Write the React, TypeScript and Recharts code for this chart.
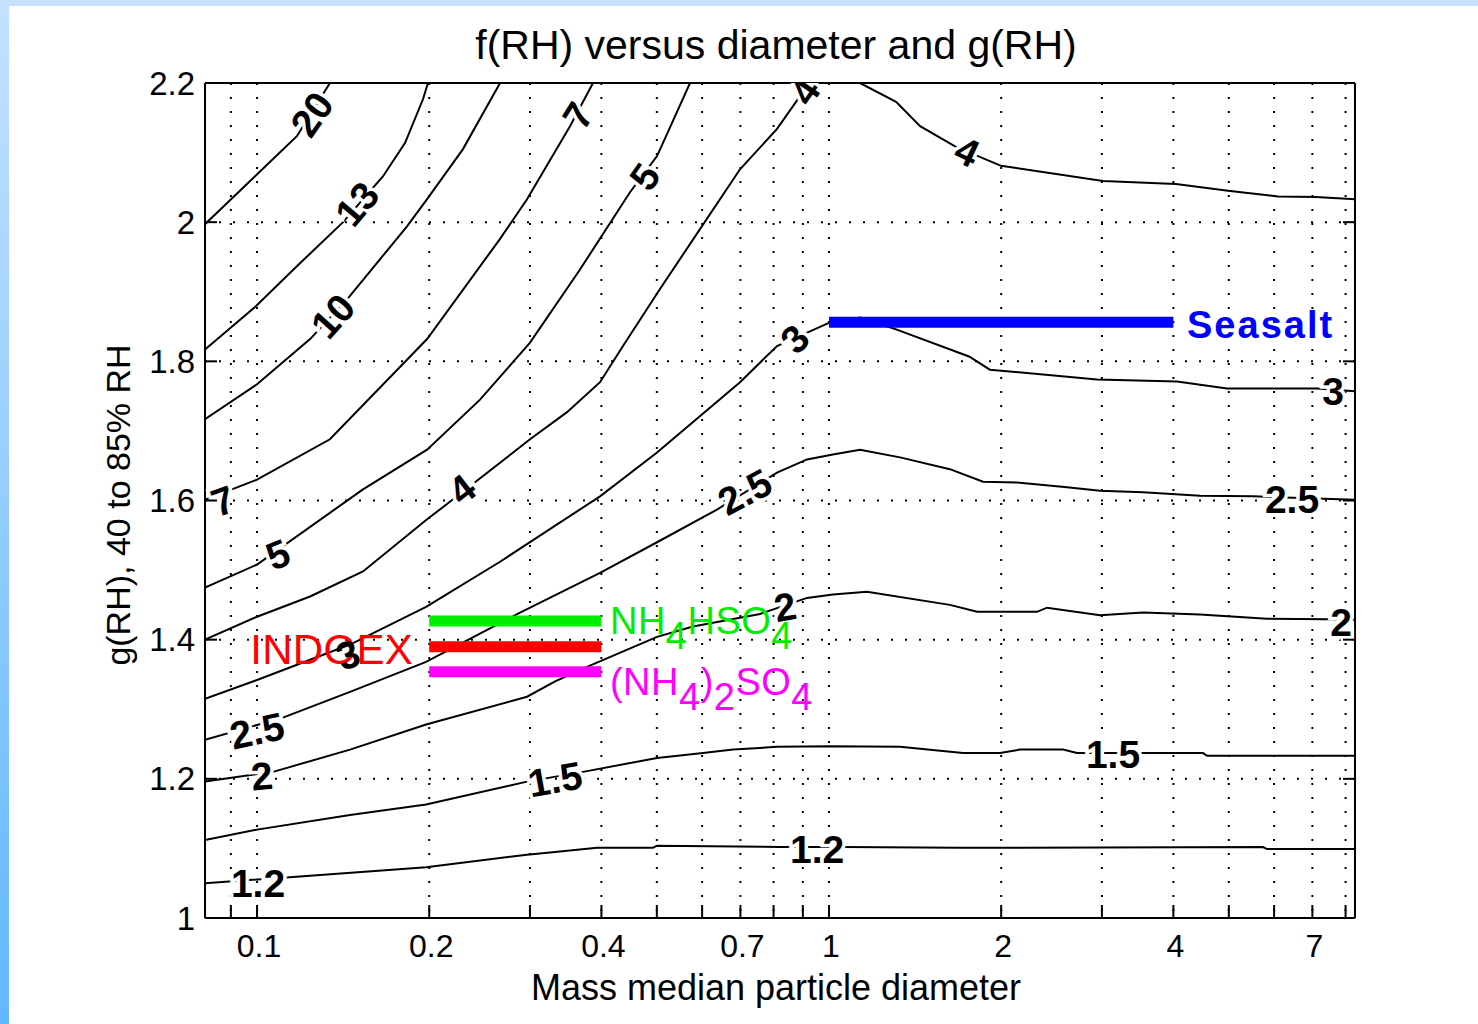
import React from "react";
import { ComposedChart, Line, Scatter, XAxis, YAxis, CartesianGrid } from "recharts";

const FONT = '"Liberation Sans", Arial, Helvetica, sans-serif';

// axes
const xDomain = [0.0811, 8.31];
const yDomain = [1, 2.2];
const xTicks = [0.09, 0.1, 0.2, 0.3, 0.4, 0.5, 0.6, 0.7, 0.8, 0.9, 1, 2, 3, 4, 5, 6, 7, 8];
const xTickLabels = [0.1, 0.2, 0.4, 0.7, 1, 2, 4, 7];
const yTicks = [1, 1.2, 1.4, 1.6, 1.8, 2, 2.2];

// contour lines of f(RH), [diameter, g(RH)]
const c20 = [[0.0811, 1.997], [0.0992, 2.066], [0.1175, 2.124], [0.1341, 2.2]];
const c13 = [[0.0811, 1.817], [0.0992, 1.878], [0.1175, 1.937], [0.1414, 2.0], [0.1661, 2.066], [0.1815, 2.114], [0.1951, 2.177], [0.199, 2.2]];
const c10 = [[0.0811, 1.717], [0.1, 1.767], [0.1238, 1.832], [0.1437, 1.889], [0.1829, 1.994], [0.1983, 2.033], [0.2291, 2.105], [0.266, 2.2]];
const c7 = [[0.0811, 1.601], [0.1, 1.63], [0.1341, 1.688], [0.1983, 1.832], [0.266, 1.976], [0.2965, 2.033], [0.3525, 2.138], [0.3867, 2.2]];
const c5 = [[0.0811, 1.475], [0.1, 1.508], [0.1532, 1.616], [0.1983, 1.673], [0.2454, 1.745], [0.3001, 1.827], [0.367, 1.932], [0.4488, 2.043], [0.5004, 2.095], [0.5715, 2.2]];
const c4 = [[0.0811, 1.4], [0.1, 1.433], [0.1238, 1.462], [0.1532, 1.498], [0.1983, 1.573], [0.2237, 1.606], [0.3001, 1.688], [0.3483, 1.727], [0.3978, 1.77], [0.4363, 1.822], [0.5064, 1.904], [0.5949, 1.99], [0.6989, 2.076], [0.8112, 2.134], [0.8899, 2.181], [0.9339, 2.2], [1.133, 2.2], [1.31, 2.173], [1.443, 2.138], [1.661, 2.109], [1.999, 2.081], [3.013, 2.059], [4.043, 2.055], [4.985, 2.045], [6.095, 2.037], [7.1, 2.036], [8.311, 2.033]];
const c3 = [[0.0811, 1.315], [0.1, 1.342], [0.1454, 1.393], [0.1975, 1.447], [0.266, 1.512], [0.3978, 1.606], [0.5004, 1.669], [0.6989, 1.77], [0.8112, 1.822], [1.004, 1.856], [1.133, 1.863], [1.31, 1.846], [1.757, 1.807], [1.911, 1.788], [2.942, 1.774], [4.059, 1.771], [4.965, 1.761], [7.133, 1.761], [8.311, 1.757]];
const c25 = [[0.0811, 1.256], [0.111, 1.288], [0.1454, 1.325], [0.1975, 1.368], [0.2883, 1.439], [0.3978, 1.496], [0.5004, 1.54], [0.6369, 1.587], [0.8112, 1.64], [0.9153, 1.659], [1.016, 1.666], [1.133, 1.673], [1.331, 1.662], [1.627, 1.645], [1.859, 1.627], [2.132, 1.626], [2.607, 1.619], [2.978, 1.614], [3.54, 1.612], [4.453, 1.607], [5.511, 1.606], [8.311, 1.601]];
const c2 = [[0.0811, 1.196], [0.1067, 1.21], [0.1454, 1.242], [0.1975, 1.278], [0.2965, 1.318], [0.332, 1.34], [0.3775, 1.361], [0.5004, 1.404], [0.5784, 1.419], [0.7575, 1.437], [0.9153, 1.46], [1.016, 1.465], [1.165, 1.469], [1.627, 1.45], [1.815, 1.44], [2.31, 1.44], [2.405, 1.446], [2.978, 1.435], [3.54, 1.439], [4.453, 1.436], [5.831, 1.43], [8.311, 1.429]];
const c15 = [[0.0811, 1.112], [0.1, 1.127], [0.1454, 1.148], [0.1975, 1.163], [0.2965, 1.196], [0.3715, 1.21], [0.5004, 1.23], [0.6021, 1.237], [0.6795, 1.242], [0.8112, 1.246], [1.004, 1.247], [1.331, 1.246], [1.715, 1.237], [1.991, 1.237], [2.158, 1.242], [2.566, 1.242], [2.714, 1.237], [3.498, 1.237], [4.507, 1.237], [4.581, 1.233], [8.311, 1.233]];
const c12 = [[0.0811, 1.05], [0.1156, 1.059], [0.1975, 1.073], [0.2965, 1.091], [0.3252, 1.094], [0.393, 1.101], [0.4924, 1.101], [0.5004, 1.104], [0.821, 1.102], [1.058, 1.102], [1.694, 1.101], [2.158, 1.101], [5.738, 1.102], [5.831, 1.099], [8.311, 1.099]];

const contours = [c20, c13, c10, c7, c5, c4, c3, c25, c2, c15, c12];

// contour labels: [diameter, g(RH), text, rotation]
const contourLabels: [number, number, string, number][] = [
  [0.1248, 2.155, "20", -55],
  [0.1496, 2.026, "13", -50],
  [0.1358, 1.865, "10", -48],
  [0.364, 2.153, "7", -58],
  [0.4768, 2.065, "5", -55],
  [0.908, 2.188, "4", -55],
  [1.743, 2.101, "4", 25],
  [0.872, 1.832, "3", -45],
  [7.605, 1.757, "3", 0],
  [0.713, 1.612, "2.5", -28],
  [6.449, 1.601, "2.5", 0],
  [0.838, 1.447, "2", -10],
  [7.856, 1.424, "2", 0],
  [0.3319, 1.199, "1.5", -10],
  [3.137, 1.2345, "1.5", 0],
  [0.953, 1.099, "1.2", 0],
  [0.1004, 1.049, "1.2", 0],
  [0.102, 1.204, "2", -5],
  [0.1, 1.269, "2.5", -12],
  [0.2282, 1.616, "4", -38],
  [0.1088, 1.522, "5", -22],
  [0.0872, 1.599, "7", -20],
];
const indoexLabel: [number, number, string, number] = [0.1442, 1.378, "3", -20];

// measured g(RH) for aerosol types
const compounds = ["NH_4HSO_4", "INDOEX", "(NH_4)_2SO_4", "Seasalt"];
const compoundG = [1.427, 1.39, 1.354, 1.856];
const compoundRange = [[0.2, 0.4], [0.2, 0.4], [0.2, 0.4], [1, 4]];
const compoundColors = ["#00ee00", "#ff0000", "#ff00ff", "#0000ff"];
const compoundTextX = [0.414, 0.1874, 0.414, 4.226];
const compoundTextG = [1.427, 1.386, 1.339, 1.852];

const BottomTick = (props: any) => {
  const { x, y, payload } = props;
  return (
    <g>
      <line x1={x} y1={y} x2={x} y2={y - 13} stroke="#000" strokeWidth={2} />
      {xTickLabels.includes(payload.value) && (
        <text x={x + 2} y={y + 28} textAnchor="middle" dominantBaseline="central" fontSize={32} fontFamily={FONT} fill="#000">
          {payload.value}
        </text>
      )}
    </g>
  );
};

const TopTick = (props: any) => {
  const { x, y } = props;
  return <line x1={x} y1={y} x2={x} y2={y + 13} stroke="#000" strokeWidth={2} />;
};

const LeftTick = (props: any) => {
  const { x, y, payload } = props;
  return (
    <g>
      <line x1={x} y1={y} x2={x + 12} y2={y} stroke="#000" strokeWidth={2} />
      <text x={x - 10} y={y} textAnchor="end" dominantBaseline="central" fontSize={33} fontFamily={FONT} fill="#000">
        {payload.value}
      </text>
    </g>
  );
};

const RightTick = (props: any) => {
  const { x, y } = props;
  return <line x1={x} y1={y} x2={x - 12} y2={y} stroke="#000" strokeWidth={2} />;
};

const ContourLabel = (props: any) => {
  const { cx, cy, payload } = props;
  return (
    <text
      x={cx}
      y={cy}
      transform={`rotate(${payload.angle} ${cx} ${cy})`}
      textAnchor="middle"
      dominantBaseline="central"
      fontSize={39}
      fontWeight="bold"
      fontFamily={FONT}
      fill="#000"
      stroke={payload.halo ? "#fff" : "none"}
      strokeWidth={7}
      paintOrder="stroke"
    >
      {payload.text}
    </text>
  );
};

const CompoundText = (props: any) => {
  const { cx, cy, payload } = props;
  const parts = payload.text.split(/(_.)/).filter(Boolean);
  let level = 0;
  return (
    <text
      x={cx}
      y={cy}
      textAnchor={payload.anchor}
      dominantBaseline="central"
      fontSize={payload.size}
      fontWeight={payload.weight}
      letterSpacing={payload.spacing}
      fontFamily={FONT}
      fill={payload.color}
    >
      {parts.map((p: string, i: number) => {
        const sub = p.startsWith("_") ? 1 : 0;
        const dy = (sub - level) * 15;
        level = sub;
        return (
          <tspan key={i} dy={dy}>
            {sub ? p.slice(1) : p}
          </tspan>
        );
      })}
    </text>
  );
};

export default function App() {
  const labelData = contourLabels.map(([x, y, text, angle]) => ({ x, y, text, angle, halo: true }));
  const indoexData = [{ x: indoexLabel[0], y: indoexLabel[1], text: indoexLabel[2], angle: indoexLabel[3], halo: false }];
  const textData = compounds.map((name, i) => ({
    x: compoundTextX[i],
    y: compoundTextG[i],
    text: name,
    color: compoundColors[i],
    anchor: name === "INDOEX" ? "end" : "start",
    size: name === "Seasalt" ? 38 : name === "INDOEX" ? 42 : 38,
    weight: name === "Seasalt" ? "bold" : "normal",
    spacing: name === "Seasalt" ? 2 : name === "INDOEX" ? 0.3 : 0.5,
  }));

  return (
    <div style={{ position: "absolute", left: 0, top: 0, width: 1478, height: 1024, background: "#fff", overflow: "hidden" }}>
      <div style={{ position: "absolute", left: 0, top: 0, width: 1478, height: 6, background: "#c4e1ff" }} />
      <div style={{ position: "absolute", left: 0, top: 0, width: 9, height: 1024, background: "linear-gradient(#c4e1ff, #62b8ff)" }} />
      <div style={{ position: "absolute", left: 0, top: 0 }}>
        <ComposedChart width={1478} height={1024} margin={{ top: 43, right: 83, bottom: 46, left: 105 }}>
          <CartesianGrid stroke="#000" strokeDasharray="2 12" strokeWidth={2} />
          <XAxis
            dataKey="x"
            type="number"
            scale="log"
            domain={xDomain}
            allowDataOverflow
            ticks={xTicks}
            interval={0}
            height={60}
            tickSize={0}
            tickMargin={0}
            tickLine={false}
            tick={BottomTick}
            axisLine={{ stroke: "#000", strokeWidth: 2 }}
          />
          <XAxis
            xAxisId="t"
            orientation="top"
            type="number"
            scale="log"
            domain={xDomain}
            allowDataOverflow
            ticks={xTicks}
            interval={0}
            height={40}
            tickSize={0}
            tickMargin={0}
            tickLine={false}
            tick={TopTick}
            axisLine={{ stroke: "#000", strokeWidth: 2 }}
          />
          <YAxis
            dataKey="y"
            type="number"
            domain={yDomain}
            allowDataOverflow
            ticks={yTicks}
            interval={0}
            width={100}
            tickSize={0}
            tickMargin={0}
            tickLine={false}
            tick={LeftTick}
            axisLine={{ stroke: "#000", strokeWidth: 2 }}
          />
          <YAxis
            yAxisId="r"
            orientation="right"
            type="number"
            domain={yDomain}
            allowDataOverflow
            ticks={yTicks}
            interval={0}
            width={40}
            tickSize={0}
            tickMargin={0}
            tickLine={false}
            tick={RightTick}
            axisLine={{ stroke: "#000", strokeWidth: 2 }}
          />
          {contours.map((c, i) => (
            <Line
              key={`c${i}`}
              data={c.map(([x, y]) => ({ x, y }))}
              dataKey="y"
              type="linear"
              stroke="#000"
              strokeWidth={2}
              dot={false}
              activeDot={false}
              isAnimationActive={false}
            />
          ))}
          <Scatter data={labelData} shape={ContourLabel} isAnimationActive={false} />
          {compounds.map((name, i) => (
            <Line
              key={name}
              data={compoundRange[i].map((x) => ({ x, y: compoundG[i] }))}
              dataKey="y"
              type="linear"
              stroke={compoundColors[i]}
              strokeWidth={11}
              strokeLinecap="butt"
              dot={false}
              activeDot={false}
              isAnimationActive={false}
            />
          ))}
          <Scatter data={textData} shape={CompoundText} isAnimationActive={false} />
          <Scatter data={indoexData} shape={ContourLabel} isAnimationActive={false} />
        </ComposedChart>
      </div>
      <svg width={1478} height={1024} style={{ position: "absolute", left: 0, top: 0, pointerEvents: "none" }}>
        <text x={776} y={45} textAnchor="middle" dominantBaseline="central" fontSize={41} fontFamily={FONT} fill="#000">
          f(RH) versus diameter and g(RH)
        </text>
        <text x={776} y={987} textAnchor="middle" dominantBaseline="central" fontSize={36} fontFamily={FONT} fill="#000">
          Mass median particle diameter
        </text>
        <text x={118} y={505} transform="rotate(-90 118 505)" textAnchor="middle" dominantBaseline="central" fontSize={34} fontFamily={FONT} fill="#000">
          g(RH), 40 to 85% RH
        </text>
      </svg>
    </div>
  );
}
